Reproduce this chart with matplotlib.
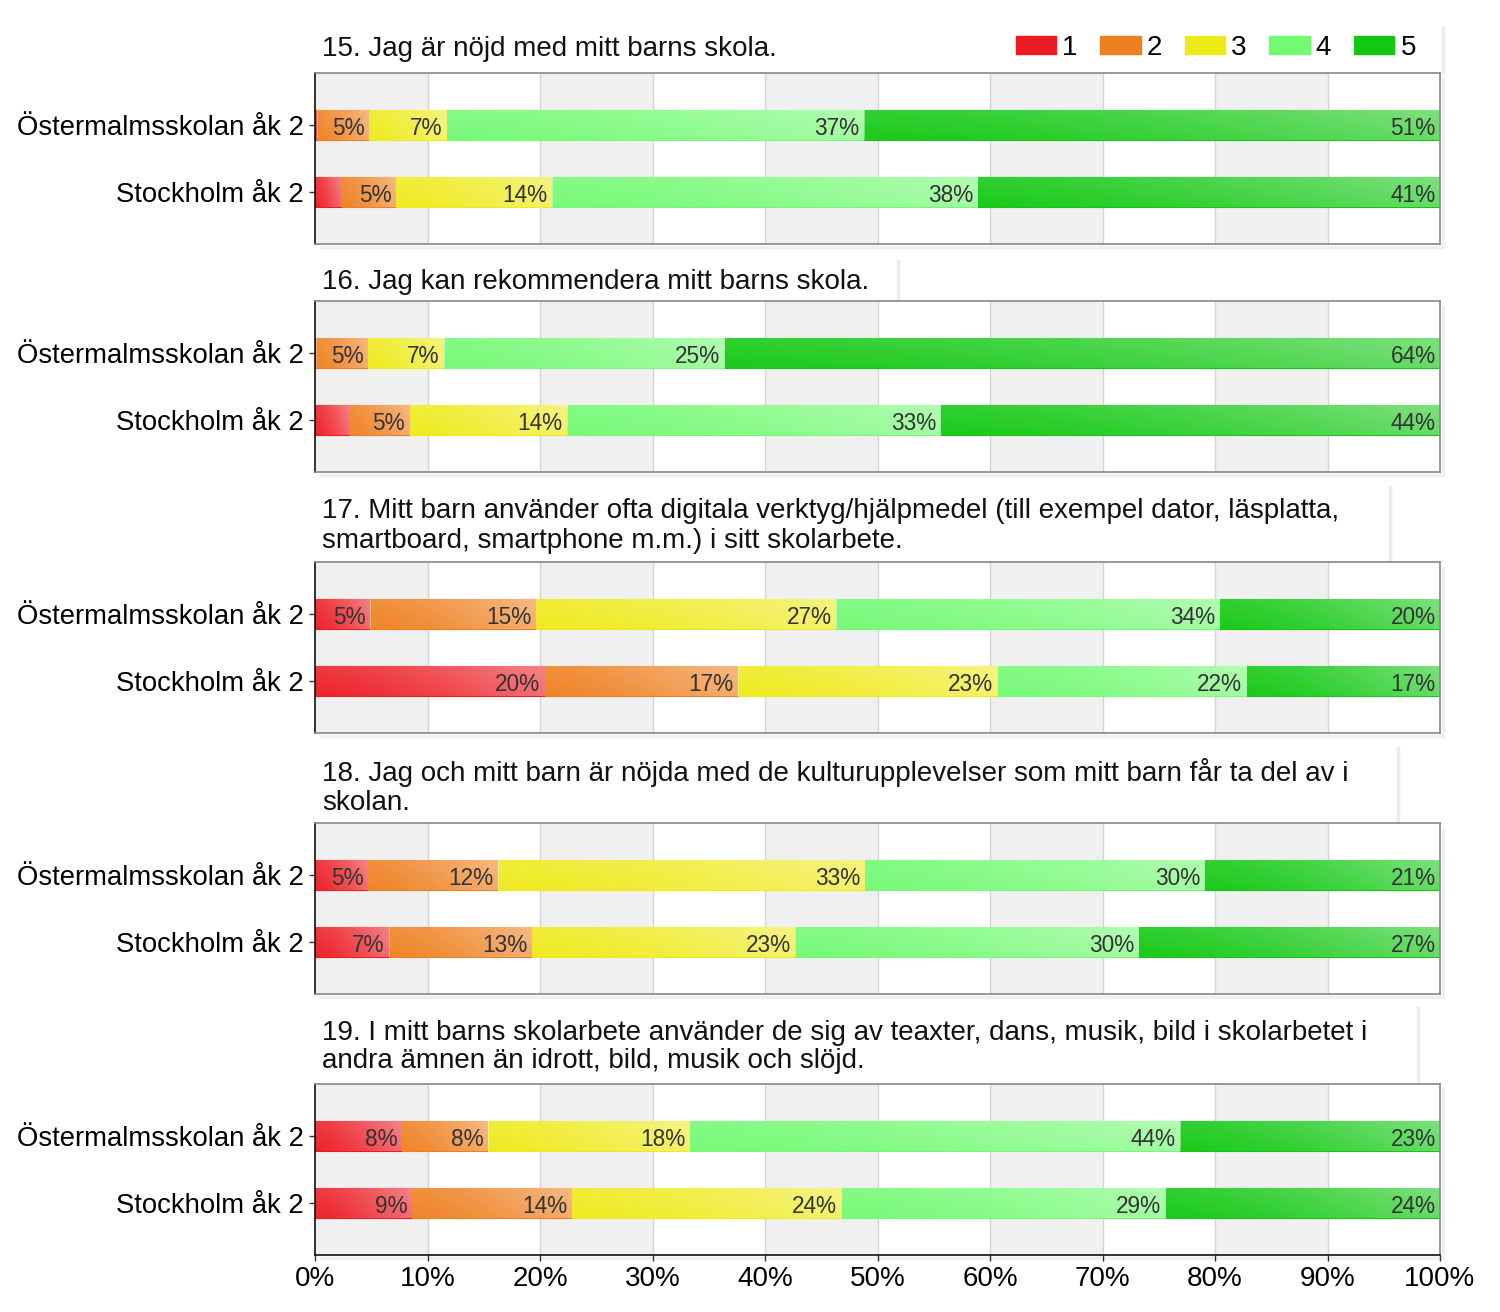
import matplotlib
matplotlib.use("Agg")
import matplotlib.pyplot as plt
import numpy as np
from matplotlib.lines import Line2D
from matplotlib.patches import Patch

plt.rcParams['font.family'] = ['Liberation Sans', 'DejaVu Sans']

# data (percent shares of answers 1..5)
groups = ["Östermalmsskolan åk 2", "Stockholm åk 2"]
answers = ["1", "2", "3", "4", "5"]
colors = ["#ec1c24", "#ee8020", "#eeea1a", "#72fa72", "#12c812"]

titles = [
    "15. Jag är nöjd med mitt barns skola.",
    "16. Jag kan rekommendera mitt barns skola.",
    "17. Mitt barn använder ofta digitala verktyg/hjälpmedel (till exempel dator, läsplatta,\nsmartboard, smartphone m.m.) i sitt skolarbete.",
    "18. Jag och mitt barn är nöjda med de kulturupplevelser som mitt barn får ta del av i\nskolan.",
    "19. I mitt barns skolarbete använder de sig av teaxter, dans, musik, bild i skolarbetet i\nandra ämnen än idrott, bild, musik och slöjd.",
]

q15_oster = [0.2, 4.6, 6.9, 37.1, 51.2]
q15_sthlm = [2.4, 4.8, 13.9, 37.8, 41.1]
q16_oster = [0.1, 4.6, 6.8, 24.9, 63.6]
q16_sthlm = [3.1, 5.3, 14.0, 33.2, 44.4]
q17_oster = [4.9, 14.7, 26.7, 34.1, 19.6]
q17_sthlm = [20.4, 17.2, 23.1, 22.1, 17.2]
q18_oster = [4.7, 11.6, 32.6, 30.2, 20.9]
q18_sthlm = [6.6, 12.7, 23.4, 30.5, 26.8]
q19_oster = [7.7, 7.7, 17.9, 43.6, 23.1]
q19_sthlm = [8.6, 14.2, 24.0, 28.8, 24.4]

panels = [
    (q15_oster, q15_sthlm),
    (q16_oster, q16_sthlm),
    (q17_oster, q17_sthlm),
    (q18_oster, q18_sthlm),
    (q19_oster, q19_sthlm),
]

W, H = 1500, 1312
fig = plt.figure(figsize=(W / 100, H / 100), dpi=100)

ax_tops = [73, 301, 562, 823, 1084]
title_y = [48, 281, 525, 786, 1046]
shadow_x = [1443, 898, 1390, 1398, 1418]
ax_h = 171
left, right = 315, 1440

# gloss overlay: white, growing toward the right and the top
gx = np.linspace(0, 1, 200)
gy = np.linspace(0, 1, 30)[:, None]
gloss = np.zeros((30, 200, 4))
gloss[..., :3] = 1.0
gloss[..., 3] = 0.04 + 0.32 * gx[None, :] ** 1.4 + 0.10 * (1 - gy)

for i, (vals_o, vals_s) in enumerate(panels):
    top = ax_tops[i]
    ax = fig.add_axes([left / W, 1 - (top + ax_h) / H, (right - left) / W, ax_h / H])

    # alternating column shading
    for x0 in range(0, 100, 20):
        ax.axvspan(x0, x0 + 10, color="#f0f0f0", zorder=0, lw=0)
    for x0 in range(10, 100, 10):
        ax.axvline(x0, color="#d4d4d4", lw=1, zorder=0.5)

    data = np.array([vals_o, vals_s])
    starts = np.zeros(2)
    for k in range(len(answers)):
        bars = ax.barh([0, 1], data[:, k], left=starts, height=0.45,
                       color=colors[k], edgecolor=colors[k], lw=0.8, zorder=2)
        for j, b in enumerate(bars):
            w = data[j, k]
            if w <= 0:
                continue
            im = ax.imshow(gloss, extent=[starts[j], starts[j] + w, j + 0.225, j - 0.225],
                           aspect="auto", zorder=2.5, interpolation="bilinear")
            im.set_clip_path(b)
            if w >= 4:
                ax.text(starts[j] + w - 0.4, j + 0.05, f"{round(w):d}%", ha="right", va="center",
                        fontsize=16.3, color="#333333", zorder=3)
        starts += data[:, k]
    ax.set_xlim(0, 100)
    ax.set_ylim(1.776, -0.776)

    ax.set_yticks([0, 1])
    ax.set_yticklabels(groups, fontsize=19.8)
    ax.tick_params(axis="y", length=4, width=1, pad=4, color="#333333")
    ax.set_xticks(np.arange(0, 101, 10))
    if i == 4:
        ax.set_xticklabels([f"{v}%" for v in range(0, 101, 10)], fontsize=20)
        ax.tick_params(axis="x", length=4, width=1, pad=4, color="#333333")
        ax.spines["bottom"].set_color("#111111")
    else:
        ax.tick_params(axis="x", length=0, labelbottom=False)
        ax.spines["bottom"].set_color("#888888")
    ax.spines["left"].set_color("#111111")
    ax.spines["top"].set_color("#888888")
    ax.spines["right"].set_color("#888888")
    for s in ax.spines.values():
        s.set_linewidth(1.2)
    ax.spines["bottom"].set_zorder(5)

    # faint shadows
    fig.add_artist(Line2D([(left + 6) / W, (right + 3) / W],
                          [1 - (top + ax_h + 3) / H] * 2, color="#f0f0f0", lw=2.5, zorder=0))
    fig.add_artist(Line2D([(right + 3) / W] * 2,
                          [1 - (top + 6) / H, 1 - (top + ax_h + 3) / H], color="#f0f0f0", lw=2.5, zorder=0))
    nlines = titles[i].count("\n") + 1
    t_top = title_y[i] - 18 * nlines - 2
    fig.add_artist(Line2D([shadow_x[i] / W] * 2, [1 - t_top / H, 1 - (top - 1) / H],
                          color="#ececec", lw=2.5, zorder=0))

    fig.text(322 / W, 1 - (title_y[i] + 1) / H, titles[i], fontsize=20, ha="left", va="center",
             linespacing=1.15, color="#111111")

    if i == 0:
        handles = [Patch(facecolor=c, edgecolor=c) for c in colors]
        fig.legend(handles, answers, loc="center right", bbox_to_anchor=(1416 / W, 1 - 48 / H),
                   ncol=5, frameon=False, fontsize=20, handlelength=1.45, handleheight=0.6,
                   handletextpad=0.22, columnspacing=0.82, borderaxespad=0, borderpad=0)

fig.savefig("out.png", dpi=100, facecolor="white")
